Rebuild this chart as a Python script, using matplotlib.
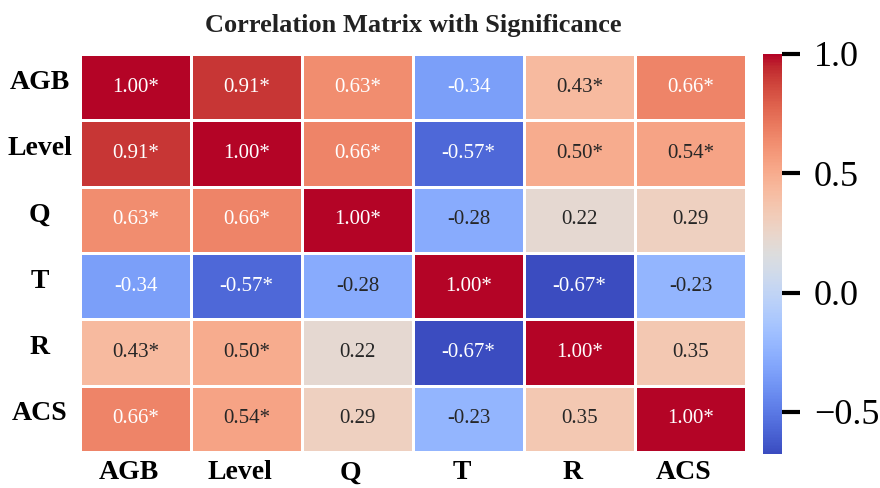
import numpy as np
import matplotlib
matplotlib.use('Agg')
import matplotlib.pyplot as plt
import matplotlib.transforms as mtransforms
import seaborn as sns

plt.rcParams['font.family'] = ['Liberation Serif', 'DejaVu Serif']

variables = ['AGB', 'Level', 'Q', 'T', 'R', 'ACS']

# pearson r between the six variables
corr = np.array([
    [1.00, 0.91, 0.63, -0.34, 0.43, 0.66],
    [0.91, 1.00, 0.66, -0.57, 0.50, 0.54],
    [0.63, 0.66, 1.00, -0.28, 0.22, 0.29],
    [-0.34, -0.57, -0.28, 1.00, -0.67, -0.23],
    [0.43, 0.50, 0.22, -0.67, 1.00, 0.35],
    [0.66, 0.54, 0.29, -0.23, 0.35, 1.00],
])

# True where p < 0.05
significant = np.array([
    [1, 1, 1, 0, 1, 1],
    [1, 1, 1, 1, 1, 1],
    [1, 1, 1, 0, 0, 0],
    [0, 1, 0, 1, 1, 0],
    [1, 1, 0, 1, 1, 0],
    [1, 1, 0, 0, 0, 1],
], dtype=bool)

labels = np.empty(corr.shape, dtype=object)
for i in range(corr.shape[0]):
    for j in range(corr.shape[1]):
        labels[i, j] = f'{corr[i, j]:.2f}' + ('*' if significant[i, j] else '')

fig = plt.figure(figsize=(8.8, 4.88), dpi=100)
ax = fig.add_axes([80/880, 1-452/488, 666/880, 398/488])
cax = fig.add_axes([763/880, 1-454/488, 19/880, 400/488])

sns.heatmap(corr, annot=labels, fmt='', cmap='coolwarm',
            vmin=-0.676, vmax=1.0,
            linewidths=2, linecolor='white',
            annot_kws={'fontsize': 15},
            xticklabels=variables, yticklabels=variables,
            ax=ax, cbar_ax=cax)

ax.tick_params(length=0)
ax.tick_params(axis='x', pad=6)
ax.tick_params(axis='y', pad=29)

# nudge the axis labels a little (pixels)
xshift = mtransforms.ScaledTranslation(-7/100, 0, fig.dpi_scale_trans)
yshift = mtransforms.ScaledTranslation(0, 5/100, fig.dpi_scale_trans)
for t in ax.get_xticklabels():
    t.set_fontsize(20)
    t.set_fontweight('bold')
    t.set_rotation(0)
    t.set_transform(t.get_transform() + xshift)
for t in ax.get_yticklabels():
    t.set_fontsize(20)
    t.set_fontweight('bold')
    t.set_rotation(0)
    t.set_horizontalalignment('center')
    t.set_transform(t.get_transform() + yshift)

ax.set_title('Correlation Matrix with Significance', fontsize=19,
             fontweight='bold', color='#222222', pad=16)

cax.set_yticks([-0.5, 0.0, 0.5, 1.0])
cax.tick_params(labelsize=26, length=13, width=3, pad=10)

fig.savefig('out.png', dpi=100)
